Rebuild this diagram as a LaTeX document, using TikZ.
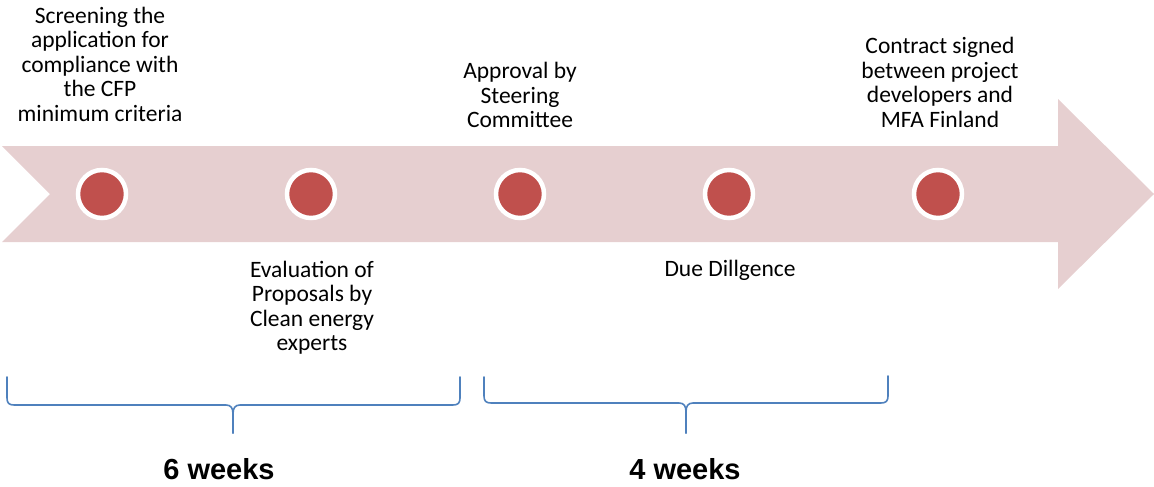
\documentclass[tikz,border=0pt]{standalone}
\usepackage{fontspec}
\setmainfont{Carlito}
\newfontfamily\labelfont{Liberation Sans}
\begin{document}
\begin{tikzpicture}[x=1pt,y=-1pt,
  milestone/.style={circle,fill=dotred,draw=white,line width=4.5pt,minimum size=48pt,inner sep=0pt},
  caption/.style={align=center,inner sep=0pt,font=\fontsize{23.5}{24.5}\selectfont},
  span/.style={draw=braceblue,line width=1.6pt,line cap=round},
  duration/.style={inner sep=0pt,font=\labelfont\bfseries\fontsize{29}{32}\selectfont}]
\definecolor{bandpink}{RGB}{230,207,208}
\definecolor{dotred}{RGB}{192,80,77}
\definecolor{braceblue}{RGB}{79,129,189}
\useasboundingbox (0,0) rectangle (1154,487);

% notched timeline arrow
\fill[bandpink] (2,146) -- (1058,146) -- (1058,99) -- (1154,194) -- (1058,289)
  -- (1058,242) -- (2,242) -- (50,194) -- cycle;

% milestones
\node[milestone] (m1) at (102,194) {};
\node[milestone] (m2) at (311,194) {};
\node[milestone] (m3) at (520,194) {};
\node[milestone] (m4) at (729,194) {};
\node[milestone] (m5) at (938,194) {};

% milestone captions
\node[caption] (t1) at (100,64) {Screening the\\application for\\compliance with\\the CFP\\minimum criteria};
\node[caption] (t2) at (312,307.5) {Evaluation of\\Proposals by\\Clean energy\\experts};
\node[caption] (t3) at (520,95) {Approval by\\Steering\\Committee};
\node[caption] (t4) at (730,270) {Due Dillgence};
\node[caption] (t5) at (940,82.5) {Contract signed\\between project\\developers and\\MFA Finland};

% duration braces
\coordinate (b1) at (233,433);
\coordinate (b2) at (686,433);
\draw[span] (7,377) -- (7,398) .. controls (7,403) and (9,405) .. (14,405) -- (226,405)
  .. controls (231,405) and (233,408) .. (233,414) -- (b1);
\draw[span] (b1) -- (233,414) .. controls (233,408) and (235,405) .. (240,405) -- (453,405)
  .. controls (458,405) and (460,403) .. (460,398) -- (460,377);
\draw[span] (484,377) -- (484,396) .. controls (484,401) and (486,403) .. (491,403) -- (679,403)
  .. controls (684,403) and (686,406) .. (686,412) -- (b2);
\draw[span] (b2) -- (686,412) .. controls (686,406) and (688,403) .. (693,403) -- (881,403)
  .. controls (886,403) and (888,401) .. (888,396) -- (888,376);

% durations
\node[duration] (d1) at (219,469) {6 weeks};
\node[duration] (d2) at (685,469) {4 weeks};
\end{tikzpicture}
\end{document}
